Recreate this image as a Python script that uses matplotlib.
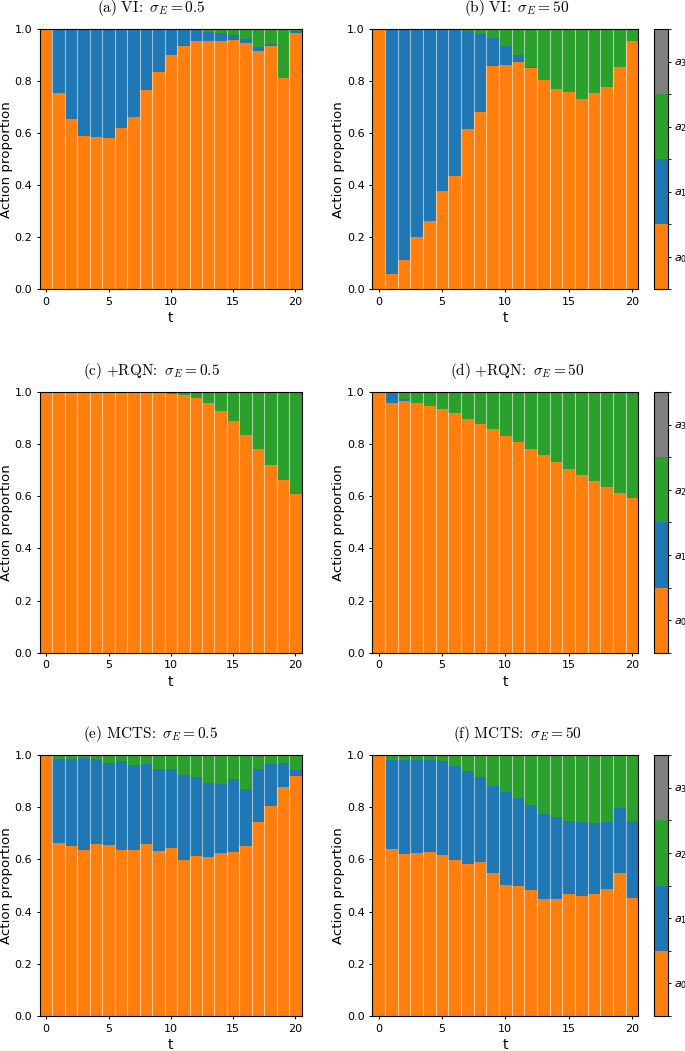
import numpy as np
import matplotlib
matplotlib.use('Agg')
from matplotlib import pyplot as plt
from matplotlib.colors import ListedColormap, BoundaryNorm
from matplotlib.cm import ScalarMappable

t = list(range(21))
action_names = ['$a_0$', '$a_1$', '$a_2$', '$a_3$']
action_colors = ['#ff7f0e', '#1f77b4', '#2ca02c', '#7f7f7f']

# (a) VI, sigma_E = 0.5
vi_low_a0 = [1.0, 0.755, 0.656, 0.588, 0.585, 0.583, 0.621, 0.662, 0.766, 0.834, 0.899,
             0.936, 0.954, 0.953, 0.955, 0.958, 0.948, 0.914, 0.935, 0.812, 0.983]
vi_low_a1 = [0, 0.245, 0.344, 0.412, 0.415, 0.417, 0.379, 0.338, 0.234, 0.166, 0.101,
             0.064, 0.041, 0.037, 0.031, 0.018, 0.014, 0.017, 0.009, 0.0, 0.008]
vi_low_a2 = [0, 0, 0, 0, 0, 0, 0, 0, 0, 0, 0,
             0, 0.005, 0.010, 0.014, 0.024, 0.038, 0.069, 0.056, 0.188, 0.009]
vi_low_a3 = [0] * 21

# (b) VI, sigma_E = 50
vi_high_a0 = [1.0, 0.059, 0.113, 0.201, 0.264, 0.378, 0.437, 0.615, 0.681, 0.858, 0.860,
              0.875, 0.849, 0.803, 0.770, 0.758, 0.730, 0.753, 0.776, 0.853, 0.954]
vi_high_a1 = [0, 0.941, 0.887, 0.799, 0.736, 0.622, 0.563, 0.379, 0.301, 0.109, 0.076,
              0.025, 0.004, 0, 0, 0, 0, 0, 0, 0, 0]
vi_high_a2 = [0, 0, 0, 0, 0, 0, 0, 0.006, 0.018, 0.033, 0.064,
              0.100, 0.147, 0.197, 0.230, 0.242, 0.270, 0.247, 0.224, 0.147, 0.046]
vi_high_a3 = [0] * 21

# (c) +RQN, sigma_E = 0.5
rqn_low_a0 = [1.0, 1.0, 1.0, 1.0, 1.0, 1.0, 1.0, 1.0, 1.0, 1.0, 0.994,
              0.988, 0.978, 0.957, 0.928, 0.889, 0.835, 0.781, 0.720, 0.661, 0.607]
rqn_low_a1 = [0] * 21
rqn_low_a2 = [0, 0, 0, 0, 0, 0, 0, 0, 0, 0, 0.006,
              0.012, 0.022, 0.043, 0.072, 0.111, 0.165, 0.219, 0.280, 0.339, 0.393]
rqn_low_a3 = [0] * 21

# (d) +RQN, sigma_E = 50
rqn_high_a0 = [1.0, 0.958, 0.965, 0.958, 0.946, 0.933, 0.918, 0.898, 0.879, 0.858, 0.832,
               0.809, 0.783, 0.758, 0.733, 0.706, 0.683, 0.659, 0.636, 0.613, 0.595]
rqn_high_a1 = [0, 0.042, 0.007, 0, 0, 0, 0, 0, 0, 0, 0,
               0, 0, 0, 0, 0, 0, 0, 0, 0, 0]
rqn_high_a2 = [0, 0, 0.028, 0.042, 0.054, 0.067, 0.082, 0.102, 0.121, 0.142, 0.168,
               0.191, 0.217, 0.242, 0.267, 0.294, 0.317, 0.341, 0.364, 0.387, 0.405]
rqn_high_a3 = [0] * 21

# (e) MCTS, sigma_E = 0.5
mcts_low_a0 = [1.0, 0.663, 0.651, 0.637, 0.660, 0.654, 0.637, 0.637, 0.658, 0.631, 0.645,
               0.598, 0.613, 0.610, 0.626, 0.628, 0.651, 0.743, 0.806, 0.876, 0.920]
mcts_low_a1 = [0, 0.323, 0.332, 0.352, 0.326, 0.315, 0.339, 0.326, 0.308, 0.314, 0.301,
               0.325, 0.301, 0.281, 0.264, 0.279, 0.219, 0.202, 0.160, 0.093, 0.023]
mcts_low_a2 = [0, 0.014, 0.017, 0.011, 0.014, 0.031, 0.024, 0.037, 0.034, 0.055, 0.054,
               0.077, 0.086, 0.109, 0.110, 0.093, 0.130, 0.055, 0.034, 0.031, 0.057]
mcts_low_a3 = [0] * 21

# (f) MCTS, sigma_E = 50
mcts_high_a0 = [1.0, 0.640, 0.622, 0.623, 0.627, 0.616, 0.599, 0.581, 0.589, 0.547, 0.501,
                0.498, 0.481, 0.448, 0.448, 0.467, 0.458, 0.467, 0.488, 0.547, 0.451]
mcts_high_a1 = [0, 0.342, 0.359, 0.359, 0.353, 0.361, 0.359, 0.356, 0.325, 0.334, 0.357,
                0.337, 0.326, 0.325, 0.316, 0.279, 0.285, 0.272, 0.255, 0.249, 0.296]
mcts_high_a2 = [0, 0.018, 0.019, 0.018, 0.020, 0.023, 0.042, 0.063, 0.086, 0.119, 0.142,
                0.165, 0.193, 0.227, 0.232, 0.254, 0.253, 0.261, 0.257, 0.204, 0.253]
mcts_high_a3 = [0, 0, 0, 0, 0, 0, 0, 0, 0, 0, 0,
                0, 0, 0, 0.004, 0, 0.004, 0, 0, 0, 0]

titles = [r'$\mathrm{(a)\ VI\!:}\ \sigma_E = 0.5$', r'$\mathrm{(b)\ VI\!:}\ \sigma_E = 50$',
          r'$\mathrm{(c)\ {+}RQN\!:}\ \sigma_E = 0.5$', r'$\mathrm{(d)\ {+}RQN\!:}\ \sigma_E = 50$',
          r'$\mathrm{(e)\ MCTS\!:}\ \sigma_E = 0.5$', r'$\mathrm{(f)\ MCTS\!:}\ \sigma_E = 50$']

panels = [
    (vi_low_a0, vi_low_a1, vi_low_a2, vi_low_a3),
    (vi_high_a0, vi_high_a1, vi_high_a2, vi_high_a3),
    (rqn_low_a0, rqn_low_a1, rqn_low_a2, rqn_low_a3),
    (rqn_high_a0, rqn_high_a1, rqn_high_a2, rqn_high_a3),
    (mcts_low_a0, mcts_low_a1, mcts_low_a2, mcts_low_a3),
    (mcts_high_a0, mcts_high_a1, mcts_high_a2, mcts_high_a3),
]


def plot_panel(ax, series):
    bottom = np.zeros(len(t))
    for vals, color in zip(series, action_colors):
        vals = np.array(vals)
        ax.bar(t, vals, width=1.0, bottom=bottom, color=color, linewidth=0)
        bottom += vals
    # thin pale separators between neighbouring bars
    sep = np.array(t[:-1]) + 0.5
    ax.vlines(sep, 0, 1, colors='white', linewidth=0.8, alpha=0.55)
    ax.set_xlim(-0.5, 20.5)
    ax.set_ylim(0, 1)
    ax.set_xticks([0, 5, 10, 15, 20])
    ax.set_yticks([0, 0.2, 0.4, 0.6, 0.8, 1.0])
    ax.tick_params(labelsize=8, length=2.5, pad=3)
    ax.set_xlabel('t', fontsize=10, labelpad=3)
    ax.set_ylabel('Action proportion', fontsize=9.6, labelpad=1.5)


W, H = 685, 1051
fig = plt.figure(figsize=(W / 100, H / 100), dpi=100)

rows = [(29, 289.3), (392, 652.7), (755, 1016)]
title_x = [151 / W, 517 / W]
cmap = ListedColormap(action_colors)
norm = BoundaryNorm([0, 1, 2, 3, 4], cmap.N)

for r, (top, bot) in enumerate(rows):
    y0 = 1 - bot / H
    h = (bot - top) / H
    ax_l = fig.add_axes([40 / W, y0, 261.7 / W, h])
    ax_r = fig.add_axes([372.3 / W, y0, 266 / W, h])
    plot_panel(ax_l, panels[2 * r])
    plot_panel(ax_r, panels[2 * r + 1])
    for c in range(2):
        fig.text(title_x[c], 1 - (top - 21) / H, titles[2 * r + c], fontsize=11,
                 math_fontfamily='cm', ha='center', va='center')
    cax = fig.add_axes([654.3 / W, y0, 13.4 / W, h])
    cb = fig.colorbar(ScalarMappable(norm=norm, cmap=cmap), cax=cax,
                      ticks=[0.5, 1.5, 2.5, 3.5])
    cb.ax.set_yticklabels(action_names)
    cb.ax.tick_params(labelsize=8, length=2.5, pad=2)
    cb.outline.set_linewidth(0.8)

fig.savefig('out.png', dpi=100)
